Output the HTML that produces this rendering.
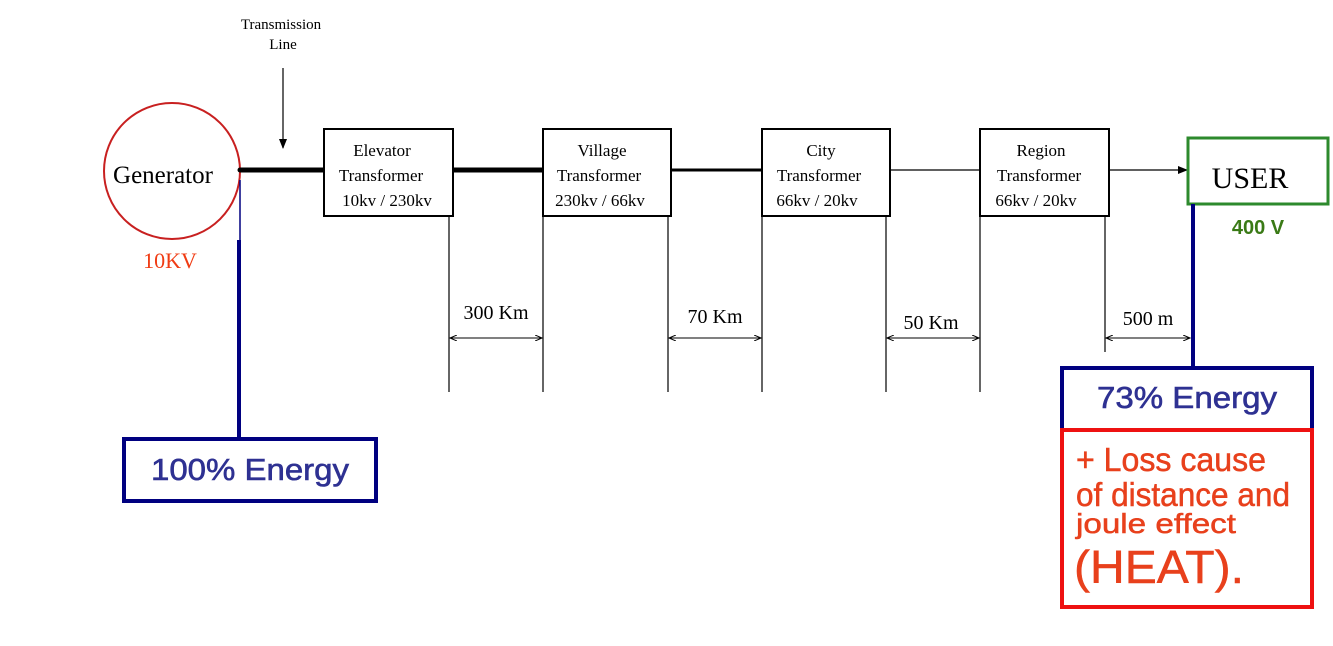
<!DOCTYPE html>
<html><head><meta charset="utf-8"><style>
html,body{margin:0;padding:0;background:#fff;}
svg{display:block;}
.s{font-family:"Liberation Serif",serif;}
.a{font-family:"Liberation Sans",sans-serif;}
</style></head><body>
<svg width="1333" height="646" viewBox="0 0 1333 646" xmlns="http://www.w3.org/2000/svg">
<defs>
<marker id="ah" markerWidth="10" markerHeight="8" refX="9" refY="4" orient="auto" markerUnits="userSpaceOnUse"><path d="M0,0 L10,4 L0,8 Z" fill="#000"/></marker>
<marker id="sa" markerWidth="8" markerHeight="6" refX="7" refY="3" orient="auto-start-reverse" markerUnits="userSpaceOnUse"><path d="M0,0 L7,3 L0,6" fill="none" stroke="#000" stroke-width="1"/></marker>
</defs>
<text class="s" x="281" y="29" font-size="15" text-anchor="middle">Transmission</text>
<text class="s" x="283" y="49" font-size="15" text-anchor="middle">Line</text>
<line x1="283" y1="68" x2="283" y2="148" stroke="#000" stroke-width="1.2" marker-end="url(#ah)"/>
<circle cx="172" cy="171" r="68" fill="none" stroke="#c82020" stroke-width="2"/>
<text class="s" x="163" y="183" font-size="25" text-anchor="middle">Generator</text>
<text class="s" x="170" y="268" font-size="22" fill="#f03c14" text-anchor="middle">10KV</text>
<line x1="240" y1="170" x2="328" y2="170" stroke="#000" stroke-width="5" stroke-linecap="round"/>
<line x1="450" y1="170" x2="545" y2="170" stroke="#000" stroke-width="5" stroke-linecap="round"/>
<line x1="670" y1="170" x2="764" y2="170" stroke="#000" stroke-width="3"/>
<line x1="889" y1="170" x2="980" y2="170" stroke="#000" stroke-width="1.2"/>
<line x1="1109" y1="170" x2="1187" y2="170" stroke="#000" stroke-width="1.2" marker-end="url(#ah)"/>
<g fill="#fff" stroke="#000" stroke-width="2">
<rect x="324" y="129" width="129" height="87"/>
<rect x="543" y="129" width="128" height="87"/>
<rect x="762" y="129" width="128" height="87"/>
<rect x="980" y="129" width="129" height="87"/>
</g>
<g class="s" font-size="17" text-anchor="middle">
<text x="382" y="156">Elevator</text><text x="381" y="181">Transformer</text><text x="387" y="206">10kv / 230kv</text>
<text x="602" y="156">Village</text><text x="599" y="181">Transformer</text><text x="600" y="206">230kv / 66kv</text>
<text x="821" y="156">City</text><text x="819" y="181">Transformer</text><text x="817" y="206">66kv / 20kv</text>
<text x="1041" y="156">Region</text><text x="1039" y="181">Transformer</text><text x="1036" y="206">66kv / 20kv</text>
</g>
<rect x="1188" y="138" width="140" height="66" fill="#fff" stroke="#2d8a2d" stroke-width="3"/>
<text class="s" x="1250" y="188" font-size="30" text-anchor="middle">USER</text>
<text class="a" x="1258" y="234" font-size="20" font-weight="bold" fill="#3a7a16" text-anchor="middle">400 V</text>
<g stroke="#000" stroke-width="1.2">
<line x1="449" y1="216" x2="449" y2="392"/>
<line x1="543" y1="216" x2="543" y2="392"/>
<line x1="668" y1="216" x2="668" y2="392"/>
<line x1="762" y1="216" x2="762" y2="392"/>
<line x1="886" y1="216" x2="886" y2="392"/>
<line x1="980" y1="216" x2="980" y2="392"/>
<line x1="1105" y1="216" x2="1105" y2="352"/>
</g>
<g stroke="#000" stroke-width="1" marker-start="url(#sa)" marker-end="url(#sa)">
<line x1="450" y1="338" x2="542" y2="338"/>
<line x1="669" y1="338" x2="761" y2="338"/>
<line x1="887" y1="338" x2="979" y2="338"/>
<line x1="1106" y1="338" x2="1190" y2="338"/>
</g>
<g class="s" font-size="20" text-anchor="middle">
<text x="496" y="319">300 Km</text>
<text x="715" y="323">70 Km</text>
<text x="931" y="329">50 Km</text>
<text x="1148" y="325">500 m</text>
</g>
<line x1="240" y1="180" x2="240" y2="240" stroke="#000080" stroke-width="1.5"/>
<line x1="239" y1="240" x2="239" y2="440" stroke="#000080" stroke-width="4"/>
<line x1="1193" y1="204" x2="1193" y2="367" stroke="#000080" stroke-width="4"/>
<rect x="124" y="439" width="252" height="62" fill="#fff" stroke="#000080" stroke-width="4"/>
<text class="a" x="250" y="480" font-size="31" fill="#2e3192" text-anchor="middle" stroke="#2e3192" stroke-width="0.6" textLength="198" lengthAdjust="spacingAndGlyphs">100% Energy</text>
<rect x="1062" y="368" width="250" height="62" fill="#fff" stroke="#000080" stroke-width="4"/>
<text class="a" x="1187" y="408" font-size="31" fill="#2e3192" text-anchor="middle" stroke="#2e3192" stroke-width="0.6" textLength="180" lengthAdjust="spacingAndGlyphs">73% Energy</text>
<rect x="1062" y="430" width="250" height="177" fill="#fff" stroke="#ee1111" stroke-width="4"/>
<g class="a" fill="#e8401c" stroke="#e8401c" stroke-width="0.5">
<text x="1076" y="471" font-size="33" textLength="190" lengthAdjust="spacingAndGlyphs">+ Loss cause</text>
<text x="1076" y="506" font-size="33" textLength="214" lengthAdjust="spacingAndGlyphs">of distance and</text>
<text x="1076" y="533" font-size="28" textLength="160" lengthAdjust="spacingAndGlyphs">joule effect</text>
<text x="1074" y="583" font-size="46" textLength="170" lengthAdjust="spacingAndGlyphs">(HEAT).</text>
</g>
</svg>
</body></html>
